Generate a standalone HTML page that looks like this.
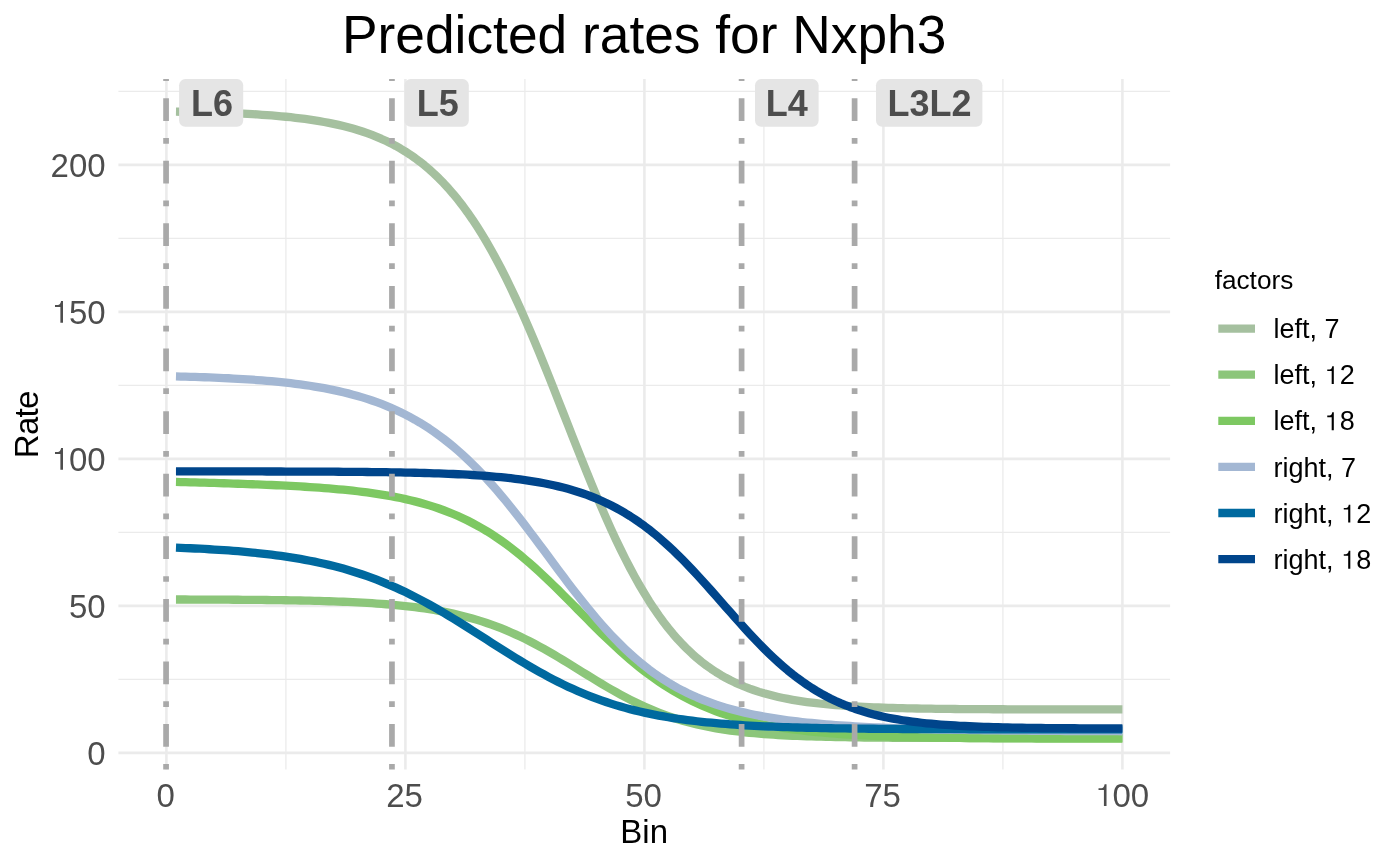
<!DOCTYPE html><html><head><meta charset="utf-8"><style>html,body{margin:0;padding:0;background:#fff;}svg{display:block;will-change:transform;}text{font-family:"Liberation Sans",sans-serif;}</style></head><body>
<svg width="1400" height="865" viewBox="0 0 1400 865">
<rect width="1400" height="865" fill="#fff"/>
<line x1="118.4" x2="1170.1" y1="679.37" y2="679.37" stroke="#ebebeb" stroke-width="1.3"/><line x1="118.4" x2="1170.1" y1="532.38" y2="532.38" stroke="#ebebeb" stroke-width="1.3"/><line x1="118.4" x2="1170.1" y1="385.40" y2="385.40" stroke="#ebebeb" stroke-width="1.3"/><line x1="118.4" x2="1170.1" y1="238.41" y2="238.41" stroke="#ebebeb" stroke-width="1.3"/><line x1="118.4" x2="1170.1" y1="91.43" y2="91.43" stroke="#ebebeb" stroke-width="1.3"/><line x1="285.90" x2="285.90" y1="79.1" y2="769.6" stroke="#ebebeb" stroke-width="1.3"/><line x1="524.90" x2="524.90" y1="79.1" y2="769.6" stroke="#ebebeb" stroke-width="1.3"/><line x1="763.90" x2="763.90" y1="79.1" y2="769.6" stroke="#ebebeb" stroke-width="1.3"/><line x1="1002.90" x2="1002.90" y1="79.1" y2="769.6" stroke="#ebebeb" stroke-width="1.3"/><line x1="118.4" x2="1170.1" y1="752.86" y2="752.86" stroke="#ebebeb" stroke-width="2.6"/><line x1="118.4" x2="1170.1" y1="605.88" y2="605.88" stroke="#ebebeb" stroke-width="2.6"/><line x1="118.4" x2="1170.1" y1="458.89" y2="458.89" stroke="#ebebeb" stroke-width="2.6"/><line x1="118.4" x2="1170.1" y1="311.90" y2="311.90" stroke="#ebebeb" stroke-width="2.6"/><line x1="118.4" x2="1170.1" y1="164.92" y2="164.92" stroke="#ebebeb" stroke-width="2.6"/><line x1="166.40" x2="166.40" y1="79.1" y2="769.6" stroke="#ebebeb" stroke-width="2.6"/><line x1="405.40" x2="405.40" y1="79.1" y2="769.6" stroke="#ebebeb" stroke-width="2.6"/><line x1="644.40" x2="644.40" y1="79.1" y2="769.6" stroke="#ebebeb" stroke-width="2.6"/><line x1="883.40" x2="883.40" y1="79.1" y2="769.6" stroke="#ebebeb" stroke-width="2.6"/><line x1="1122.40" x2="1122.40" y1="79.1" y2="769.6" stroke="#ebebeb" stroke-width="2.6"/>
<path d="M175.96 111.66 L180.74 111.74 L185.52 111.83 L190.30 111.92 L195.08 112.03 L199.86 112.14 L204.64 112.26 L209.42 112.40 L214.20 112.54 L218.98 112.69 L223.76 112.86 L228.54 113.04 L233.32 113.23 L238.10 113.44 L242.88 113.67 L247.66 113.92 L252.44 114.18 L257.22 114.47 L262.00 114.78 L266.78 115.12 L271.56 115.48 L276.34 115.87 L281.12 116.29 L285.90 116.75 L290.68 117.24 L295.46 117.77 L300.24 118.35 L305.02 118.97 L309.80 119.64 L314.58 120.36 L319.36 121.14 L324.14 121.98 L328.92 122.89 L333.70 123.87 L338.48 124.92 L343.26 126.05 L348.04 127.28 L352.82 128.60 L357.60 130.02 L362.38 131.54 L367.16 133.19 L371.94 134.96 L376.72 136.86 L381.50 138.90 L386.28 141.09 L391.06 143.45 L395.84 145.97 L400.62 148.68 L405.40 151.58 L410.18 154.69 L414.96 158.02 L419.74 161.57 L424.52 165.36 L429.30 169.41 L434.08 173.73 L438.86 178.32 L443.64 183.21 L448.42 188.40 L453.20 193.91 L457.98 199.74 L462.76 205.91 L467.54 212.43 L472.32 219.30 L477.10 226.54 L481.88 234.14 L486.66 242.11 L491.44 250.46 L496.22 259.17 L501.00 268.25 L505.78 277.69 L510.56 287.49 L515.34 297.62 L520.12 308.07 L524.90 318.83 L529.68 329.87 L534.46 341.17 L539.24 352.69 L544.02 364.42 L548.80 376.31 L553.58 388.33 L558.36 400.44 L563.14 412.61 L567.92 424.80 L572.70 436.96 L577.48 449.05 L582.26 461.04 L587.04 472.89 L591.82 484.56 L596.60 496.02 L601.38 507.24 L606.16 518.18 L610.94 528.83 L615.72 539.15 L620.50 549.13 L625.28 558.75 L630.06 568.00 L634.84 576.87 L639.62 585.36 L644.40 593.45 L649.18 601.15 L653.96 608.46 L658.74 615.39 L663.52 621.94 L668.30 628.12 L673.08 633.93 L677.86 639.40 L682.64 644.53 L687.42 649.34 L692.20 653.83 L696.98 658.03 L701.76 661.95 L706.54 665.59 L711.32 668.98 L716.10 672.14 L720.88 675.06 L725.66 677.78 L730.44 680.29 L735.22 682.61 L740.00 684.77 L744.78 686.75 L749.56 688.59 L754.34 690.28 L759.12 691.85 L763.90 693.29 L768.68 694.61 L773.46 695.83 L778.24 696.96 L783.02 697.99 L787.80 698.94 L792.58 699.82 L797.36 700.62 L802.14 701.36 L806.92 702.03 L811.70 702.65 L816.48 703.22 L821.26 703.75 L826.04 704.23 L830.82 704.67 L835.60 705.07 L840.38 705.44 L845.16 705.78 L849.94 706.09 L854.72 706.38 L859.50 706.64 L864.28 706.88 L869.06 707.10 L873.84 707.30 L878.62 707.48 L883.40 707.65 L888.18 707.80 L892.96 707.95 L897.74 708.08 L902.52 708.19 L907.30 708.30 L912.08 708.40 L916.86 708.49 L921.64 708.57 L926.42 708.65 L931.20 708.72 L935.98 708.78 L940.76 708.84 L945.54 708.90 L950.32 708.94 L955.10 708.99 L959.88 709.03 L964.66 709.07 L969.44 709.10 L974.22 709.13 L979.00 709.16 L983.78 709.19 L988.56 709.21 L993.34 709.23 L998.12 709.25 L1002.90 709.27 L1007.68 709.29 L1012.46 709.30 L1017.24 709.32 L1022.02 709.33 L1026.80 709.34 L1031.58 709.35 L1036.36 709.36 L1041.14 709.37 L1045.92 709.38 L1050.70 709.39 L1055.48 709.40 L1060.26 709.40 L1065.04 709.41 L1069.82 709.41 L1074.60 709.42 L1079.38 709.42 L1084.16 709.43 L1088.94 709.43 L1093.72 709.43 L1098.50 709.44 L1103.28 709.44 L1108.06 709.44 L1112.84 709.44 L1117.62 709.45 L1122.40 709.45" fill="none" stroke="#a5c09f" stroke-width="8.3" stroke-linejoin="round" stroke-linecap="butt"/>
<path d="M175.96 599.50 L180.74 599.51 L185.52 599.52 L190.30 599.54 L195.08 599.55 L199.86 599.57 L204.64 599.59 L209.42 599.60 L214.20 599.63 L218.98 599.65 L223.76 599.67 L228.54 599.70 L233.32 599.73 L238.10 599.76 L242.88 599.79 L247.66 599.83 L252.44 599.87 L257.22 599.91 L262.00 599.96 L266.78 600.01 L271.56 600.07 L276.34 600.13 L281.12 600.19 L285.90 600.26 L290.68 600.34 L295.46 600.42 L300.24 600.51 L305.02 600.61 L309.80 600.72 L314.58 600.83 L319.36 600.95 L324.14 601.09 L328.92 601.23 L333.70 601.39 L338.48 601.56 L343.26 601.74 L348.04 601.94 L352.82 602.16 L357.60 602.39 L362.38 602.65 L367.16 602.92 L371.94 603.21 L376.72 603.53 L381.50 603.88 L386.28 604.25 L391.06 604.65 L395.84 605.08 L400.62 605.55 L405.40 606.05 L410.18 606.59 L414.96 607.17 L419.74 607.80 L424.52 608.47 L429.30 609.20 L434.08 609.97 L438.86 610.81 L443.64 611.70 L448.42 612.66 L453.20 613.68 L457.98 614.77 L462.76 615.93 L467.54 617.17 L472.32 618.49 L477.10 619.89 L481.88 621.38 L486.66 622.96 L491.44 624.62 L496.22 626.38 L501.00 628.22 L505.78 630.17 L510.56 632.20 L515.34 634.34 L520.12 636.56 L524.90 638.87 L529.68 641.28 L534.46 643.76 L539.24 646.33 L544.02 648.98 L548.80 651.69 L553.58 654.46 L558.36 657.29 L563.14 660.16 L567.92 663.08 L572.70 666.01 L577.48 668.97 L582.26 671.93 L587.04 674.88 L591.82 677.83 L596.60 680.74 L601.38 683.62 L606.16 686.46 L610.94 689.24 L615.72 691.95 L620.50 694.60 L625.28 697.17 L630.06 699.65 L634.84 702.05 L639.62 704.35 L644.40 706.56 L649.18 708.67 L653.96 710.68 L658.74 712.59 L663.52 714.40 L668.30 716.11 L673.08 717.72 L677.86 719.24 L682.64 720.66 L687.42 721.99 L692.20 723.24 L696.98 724.40 L701.76 725.49 L706.54 726.49 L711.32 727.43 L716.10 728.30 L720.88 729.10 L725.66 729.84 L730.44 730.53 L735.22 731.16 L740.00 731.74 L744.78 732.28 L749.56 732.77 L754.34 733.22 L759.12 733.64 L763.90 734.02 L768.68 734.37 L773.46 734.69 L778.24 734.99 L783.02 735.26 L787.80 735.50 L792.58 735.73 L797.36 735.93 L802.14 736.12 L806.92 736.29 L811.70 736.45 L816.48 736.59 L821.26 736.72 L826.04 736.84 L830.82 736.95 L835.60 737.05 L840.38 737.14 L845.16 737.22 L849.94 737.30 L854.72 737.36 L859.50 737.43 L864.28 737.48 L869.06 737.53 L873.84 737.58 L878.62 737.62 L883.40 737.66 L888.18 737.70 L892.96 737.73 L897.74 737.76 L902.52 737.79 L907.30 737.81 L912.08 737.83 L916.86 737.85 L921.64 737.87 L926.42 737.89 L931.20 737.90 L935.98 737.91 L940.76 737.93 L945.54 737.94 L950.32 737.95 L955.10 737.96 L959.88 737.97 L964.66 737.97 L969.44 737.98 L974.22 737.99 L979.00 737.99 L983.78 738.00 L988.56 738.00 L993.34 738.01 L998.12 738.01 L1002.90 738.02 L1007.68 738.02 L1012.46 738.02 L1017.24 738.03 L1022.02 738.03 L1026.80 738.03 L1031.58 738.03 L1036.36 738.03 L1041.14 738.04 L1045.92 738.04 L1050.70 738.04 L1055.48 738.04 L1060.26 738.04 L1065.04 738.04 L1069.82 738.04 L1074.60 738.04 L1079.38 738.04 L1084.16 738.05 L1088.94 738.05 L1093.72 738.05 L1098.50 738.05 L1103.28 738.05 L1108.06 738.05 L1112.84 738.05 L1117.62 738.05 L1122.40 738.05" fill="none" stroke="#8cc67a" stroke-width="8.3" stroke-linejoin="round" stroke-linecap="butt"/>
<path d="M175.96 481.92 L180.74 482.04 L185.52 482.17 L190.30 482.30 L195.08 482.42 L199.86 482.56 L204.64 482.69 L209.42 482.83 L214.20 482.97 L218.98 483.11 L223.76 483.26 L228.54 483.41 L233.32 483.56 L238.10 483.73 L242.88 483.89 L247.66 484.06 L252.44 484.24 L257.22 484.42 L262.00 484.61 L266.78 484.81 L271.56 485.02 L276.34 485.23 L281.12 485.46 L285.90 485.70 L290.68 485.94 L295.46 486.20 L300.24 486.47 L305.02 486.76 L309.80 487.06 L314.58 487.38 L319.36 487.72 L324.14 488.07 L328.92 488.45 L333.70 488.85 L338.48 489.27 L343.26 489.72 L348.04 490.20 L352.82 490.71 L357.60 491.25 L362.38 491.83 L367.16 492.44 L371.94 493.10 L376.72 493.79 L381.50 494.54 L386.28 495.33 L391.06 496.18 L395.84 497.09 L400.62 498.05 L405.40 499.09 L410.18 500.19 L414.96 501.36 L419.74 502.62 L424.52 503.95 L429.30 505.38 L434.08 506.89 L438.86 508.51 L443.64 510.23 L448.42 512.05 L453.20 513.99 L457.98 516.05 L462.76 518.23 L467.54 520.53 L472.32 522.97 L477.10 525.54 L481.88 528.25 L486.66 531.10 L491.44 534.10 L496.22 537.24 L501.00 540.52 L505.78 543.95 L510.56 547.52 L515.34 551.24 L520.12 555.09 L524.90 559.08 L529.68 563.19 L534.46 567.43 L539.24 571.77 L544.02 576.22 L548.80 580.77 L553.58 585.39 L558.36 590.08 L563.14 594.83 L567.92 599.63 L572.70 604.45 L577.48 609.28 L582.26 614.12 L587.04 618.94 L591.82 623.73 L596.60 628.48 L601.38 633.17 L606.16 637.80 L610.94 642.34 L615.72 646.79 L620.50 651.15 L625.28 655.39 L630.06 659.52 L634.84 663.53 L639.62 667.41 L644.40 671.15 L649.18 674.76 L653.96 678.24 L658.74 681.57 L663.52 684.77 L668.30 687.83 L673.08 690.75 L677.86 693.53 L682.64 696.18 L687.42 698.70 L692.20 701.10 L696.98 703.37 L701.76 705.52 L706.54 707.55 L711.32 709.48 L716.10 711.29 L720.88 713.01 L725.66 714.62 L730.44 716.15 L735.22 717.58 L740.00 718.93 L744.78 720.20 L749.56 721.39 L754.34 722.51 L759.12 723.56 L763.90 724.54 L768.68 725.47 L773.46 726.33 L778.24 727.15 L783.02 727.91 L787.80 728.62 L792.58 729.29 L797.36 729.91 L802.14 730.49 L806.92 731.04 L811.70 731.55 L816.48 732.03 L821.26 732.47 L826.04 732.89 L830.82 733.28 L835.60 733.65 L840.38 733.99 L845.16 734.31 L849.94 734.60 L854.72 734.88 L859.50 735.14 L864.28 735.38 L869.06 735.61 L873.84 735.82 L878.62 736.02 L883.40 736.20 L888.18 736.37 L892.96 736.53 L897.74 736.68 L902.52 736.82 L907.30 736.95 L912.08 737.07 L916.86 737.19 L921.64 737.29 L926.42 737.39 L931.20 737.48 L935.98 737.57 L940.76 737.65 L945.54 737.72 L950.32 737.79 L955.10 737.86 L959.88 737.92 L964.66 737.98 L969.44 738.03 L974.22 738.08 L979.00 738.13 L983.78 738.17 L988.56 738.21 L993.34 738.25 L998.12 738.28 L1002.90 738.31 L1007.68 738.34 L1012.46 738.37 L1017.24 738.40 L1022.02 738.42 L1026.80 738.45 L1031.58 738.47 L1036.36 738.49 L1041.14 738.51 L1045.92 738.52 L1050.70 738.54 L1055.48 738.55 L1060.26 738.57 L1065.04 738.58 L1069.82 738.59 L1074.60 738.61 L1079.38 738.62 L1084.16 738.63 L1088.94 738.64 L1093.72 738.64 L1098.50 738.65 L1103.28 738.66 L1108.06 738.67 L1112.84 738.67 L1117.62 738.68 L1122.40 738.69" fill="none" stroke="#7dc862" stroke-width="8.3" stroke-linejoin="round" stroke-linecap="butt"/>
<path d="M175.96 376.42 L180.74 376.54 L185.52 376.66 L190.30 376.80 L195.08 376.94 L199.86 377.10 L204.64 377.26 L209.42 377.44 L214.20 377.63 L218.98 377.83 L223.76 378.04 L228.54 378.27 L233.32 378.52 L238.10 378.79 L242.88 379.07 L247.66 379.37 L252.44 379.69 L257.22 380.03 L262.00 380.40 L266.78 380.80 L271.56 381.21 L276.34 381.66 L281.12 382.14 L285.90 382.65 L290.68 383.20 L295.46 383.78 L300.24 384.40 L305.02 385.06 L309.80 385.77 L314.58 386.53 L319.36 387.33 L324.14 388.19 L328.92 389.10 L333.70 390.07 L338.48 391.11 L343.26 392.21 L348.04 393.39 L352.82 394.64 L357.60 395.96 L362.38 397.37 L367.16 398.87 L371.94 400.46 L376.72 402.15 L381.50 403.94 L386.28 405.84 L391.06 407.85 L395.84 409.98 L400.62 412.23 L405.40 414.61 L410.18 417.13 L414.96 419.78 L419.74 422.57 L424.52 425.52 L429.30 428.61 L434.08 431.87 L438.86 435.29 L443.64 438.87 L448.42 442.62 L453.20 446.54 L457.98 450.63 L462.76 454.90 L467.54 459.35 L472.32 463.97 L477.10 468.76 L481.88 473.72 L486.66 478.85 L491.44 484.15 L496.22 489.60 L501.00 495.20 L505.78 500.94 L510.56 506.82 L515.34 512.82 L520.12 518.92 L524.90 525.12 L529.68 531.41 L534.46 537.75 L539.24 544.15 L544.02 550.59 L548.80 557.04 L553.58 563.48 L558.36 569.91 L563.14 576.30 L567.92 582.64 L572.70 588.91 L577.48 595.08 L582.26 601.16 L587.04 607.11 L591.82 612.94 L596.60 618.62 L601.38 624.14 L606.16 629.51 L610.94 634.69 L615.72 639.71 L620.50 644.53 L625.28 649.17 L630.06 653.62 L634.84 657.88 L639.62 661.96 L644.40 665.84 L649.18 669.54 L653.96 673.05 L658.74 676.39 L663.52 679.55 L668.30 682.54 L673.08 685.37 L677.86 688.05 L682.64 690.58 L687.42 692.96 L692.20 695.20 L696.98 697.32 L701.76 699.31 L706.54 701.18 L711.32 702.94 L716.10 704.59 L720.88 706.15 L725.66 707.61 L730.44 708.99 L735.22 710.28 L740.00 711.49 L744.78 712.63 L749.56 713.70 L754.34 714.71 L759.12 715.66 L763.90 716.55 L768.68 717.38 L773.46 718.17 L778.24 718.91 L783.02 719.60 L787.80 720.26 L792.58 720.87 L797.36 721.45 L802.14 722.00 L806.92 722.52 L811.70 723.00 L816.48 723.46 L821.26 723.89 L826.04 724.30 L830.82 724.68 L835.60 725.04 L840.38 725.38 L845.16 725.71 L849.94 726.01 L854.72 726.30 L859.50 726.57 L864.28 726.83 L869.06 727.07 L873.84 727.30 L878.62 727.52 L883.40 727.73 L888.18 727.92 L892.96 728.10 L897.74 728.28 L902.52 728.44 L907.30 728.60 L912.08 728.75 L916.86 728.89 L921.64 729.02 L926.42 729.15 L931.20 729.27 L935.98 729.38 L940.76 729.49 L945.54 729.59 L950.32 729.69 L955.10 729.78 L959.88 729.87 L964.66 729.95 L969.44 730.03 L974.22 730.10 L979.00 730.17 L983.78 730.24 L988.56 730.30 L993.34 730.36 L998.12 730.42 L1002.90 730.48 L1007.68 730.53 L1012.46 730.58 L1017.24 730.62 L1022.02 730.67 L1026.80 730.71 L1031.58 730.75 L1036.36 730.79 L1041.14 730.82 L1045.92 730.86 L1050.70 730.89 L1055.48 730.92 L1060.26 730.95 L1065.04 730.98 L1069.82 731.01 L1074.60 731.03 L1079.38 731.06 L1084.16 731.08 L1088.94 731.10 L1093.72 731.12 L1098.50 731.14 L1103.28 731.16 L1108.06 731.18 L1112.84 731.19 L1117.62 731.21 L1122.40 731.23" fill="none" stroke="#a3b7d3" stroke-width="8.3" stroke-linejoin="round" stroke-linecap="butt"/>
<path d="M175.96 547.68 L180.74 547.86 L185.52 548.06 L190.30 548.27 L195.08 548.49 L199.86 548.72 L204.64 548.97 L209.42 549.24 L214.20 549.52 L218.98 549.82 L223.76 550.14 L228.54 550.48 L233.32 550.84 L238.10 551.23 L242.88 551.63 L247.66 552.07 L252.44 552.53 L257.22 553.01 L262.00 553.53 L266.78 554.08 L271.56 554.66 L276.34 555.27 L281.12 555.93 L285.90 556.62 L290.68 557.35 L295.46 558.12 L300.24 558.94 L305.02 559.80 L309.80 560.71 L314.58 561.67 L319.36 562.69 L324.14 563.76 L328.92 564.88 L333.70 566.07 L338.48 567.31 L343.26 568.62 L348.04 570.00 L352.82 571.44 L357.60 572.95 L362.38 574.53 L367.16 576.18 L371.94 577.91 L376.72 579.71 L381.50 581.59 L386.28 583.54 L391.06 585.57 L395.84 587.67 L400.62 589.86 L405.40 592.12 L410.18 594.45 L414.96 596.86 L419.74 599.34 L424.52 601.88 L429.30 604.50 L434.08 607.18 L438.86 609.92 L443.64 612.72 L448.42 615.57 L453.20 618.46 L457.98 621.40 L462.76 624.38 L467.54 627.38 L472.32 630.41 L477.10 633.46 L481.88 636.52 L486.66 639.59 L491.44 642.66 L496.22 645.72 L501.00 648.76 L505.78 651.78 L510.56 654.78 L515.34 657.74 L520.12 660.66 L524.90 663.53 L529.68 666.36 L534.46 669.13 L539.24 671.84 L544.02 674.49 L548.80 677.06 L553.58 679.57 L558.36 682.01 L563.14 684.36 L567.92 686.65 L572.70 688.85 L577.48 690.97 L582.26 693.01 L587.04 694.98 L591.82 696.86 L596.60 698.66 L601.38 700.39 L606.16 702.04 L610.94 703.61 L615.72 705.10 L620.50 706.53 L625.28 707.88 L630.06 709.17 L634.84 710.39 L639.62 711.54 L644.40 712.63 L649.18 713.67 L653.96 714.64 L658.74 715.57 L663.52 716.43 L668.30 717.25 L673.08 718.03 L677.86 718.75 L682.64 719.43 L687.42 720.08 L692.20 720.68 L696.98 721.25 L701.76 721.78 L706.54 722.28 L711.32 722.74 L716.10 723.18 L720.88 723.59 L725.66 723.98 L730.44 724.34 L735.22 724.67 L740.00 724.99 L744.78 725.28 L749.56 725.56 L754.34 725.81 L759.12 726.05 L763.90 726.28 L768.68 726.49 L773.46 726.68 L778.24 726.87 L783.02 727.04 L787.80 727.20 L792.58 727.35 L797.36 727.48 L802.14 727.61 L806.92 727.73 L811.70 727.85 L816.48 727.95 L821.26 728.05 L826.04 728.14 L830.82 728.23 L835.60 728.31 L840.38 728.38 L845.16 728.45 L849.94 728.51 L854.72 728.57 L859.50 728.63 L864.28 728.68 L869.06 728.73 L873.84 728.77 L878.62 728.81 L883.40 728.85 L888.18 728.89 L892.96 728.92 L897.74 728.96 L902.52 728.98 L907.30 729.01 L912.08 729.04 L916.86 729.06 L921.64 729.08 L926.42 729.10 L931.20 729.12 L935.98 729.14 L940.76 729.16 L945.54 729.17 L950.32 729.19 L955.10 729.20 L959.88 729.21 L964.66 729.22 L969.44 729.24 L974.22 729.25 L979.00 729.25 L983.78 729.26 L988.56 729.27 L993.34 729.28 L998.12 729.29 L1002.90 729.29 L1007.68 729.30 L1012.46 729.30 L1017.24 729.31 L1022.02 729.31 L1026.80 729.32 L1031.58 729.32 L1036.36 729.33 L1041.14 729.33 L1045.92 729.33 L1050.70 729.34 L1055.48 729.34 L1060.26 729.34 L1065.04 729.35 L1069.82 729.35 L1074.60 729.35 L1079.38 729.35 L1084.16 729.35 L1088.94 729.36 L1093.72 729.36 L1098.50 729.36 L1103.28 729.36 L1108.06 729.36 L1112.84 729.36 L1117.62 729.36 L1122.40 729.37" fill="none" stroke="#00699f" stroke-width="8.3" stroke-linejoin="round" stroke-linecap="butt"/>
<path d="M175.96 471.39 L180.74 471.40 L185.52 471.40 L190.30 471.40 L195.08 471.40 L199.86 471.41 L204.64 471.41 L209.42 471.41 L214.20 471.42 L218.98 471.42 L223.76 471.42 L228.54 471.43 L233.32 471.43 L238.10 471.44 L242.88 471.44 L247.66 471.45 L252.44 471.46 L257.22 471.47 L262.00 471.47 L266.78 471.48 L271.56 471.49 L276.34 471.50 L281.12 471.51 L285.90 471.53 L290.68 471.54 L295.46 471.55 L300.24 471.57 L305.02 471.59 L309.80 471.60 L314.58 471.62 L319.36 471.64 L324.14 471.67 L328.92 471.69 L333.70 471.72 L338.48 471.75 L343.26 471.78 L348.04 471.82 L352.82 471.85 L357.60 471.90 L362.38 471.94 L367.16 471.99 L371.94 472.04 L376.72 472.10 L381.50 472.16 L386.28 472.22 L391.06 472.30 L395.84 472.37 L400.62 472.46 L405.40 472.55 L410.18 472.65 L414.96 472.76 L419.74 472.87 L424.52 473.00 L429.30 473.14 L434.08 473.28 L438.86 473.44 L443.64 473.62 L448.42 473.81 L453.20 474.01 L457.98 474.23 L462.76 474.47 L467.54 474.73 L472.32 475.01 L477.10 475.31 L481.88 475.64 L486.66 475.99 L491.44 476.37 L496.22 476.79 L501.00 477.24 L505.78 477.72 L510.56 478.24 L515.34 478.81 L520.12 479.42 L524.90 480.08 L529.68 480.79 L534.46 481.55 L539.24 482.38 L544.02 483.26 L548.80 484.22 L553.58 485.25 L558.36 486.36 L563.14 487.55 L567.92 488.83 L572.70 490.20 L577.48 491.68 L582.26 493.26 L587.04 494.94 L591.82 496.75 L596.60 498.68 L601.38 500.74 L606.16 502.93 L610.94 505.27 L615.72 507.75 L620.50 510.39 L625.28 513.18 L630.06 516.13 L634.84 519.25 L639.62 522.54 L644.40 525.99 L649.18 529.62 L653.96 533.42 L658.74 537.40 L663.52 541.54 L668.30 545.84 L673.08 550.31 L677.86 554.92 L682.64 559.68 L687.42 564.58 L692.20 569.60 L696.98 574.72 L701.76 579.95 L706.54 585.25 L711.32 590.62 L716.10 596.03 L720.88 601.46 L725.66 606.91 L730.44 612.34 L735.22 617.74 L740.00 623.09 L744.78 628.37 L749.56 633.57 L754.34 638.67 L759.12 643.65 L763.90 648.49 L768.68 653.20 L773.46 657.75 L778.24 662.14 L783.02 666.35 L787.80 670.40 L792.58 674.26 L797.36 677.94 L802.14 681.44 L806.92 684.76 L811.70 687.89 L816.48 690.85 L821.26 693.64 L826.04 696.25 L830.82 698.70 L835.60 701.00 L840.38 703.14 L845.16 705.13 L849.94 706.99 L854.72 708.72 L859.50 710.32 L864.28 711.80 L869.06 713.18 L873.84 714.45 L878.62 715.62 L883.40 716.70 L888.18 717.70 L892.96 718.61 L897.74 719.46 L902.52 720.23 L907.30 720.95 L912.08 721.60 L916.86 722.20 L921.64 722.75 L926.42 723.26 L931.20 723.72 L935.98 724.14 L940.76 724.53 L945.54 724.88 L950.32 725.20 L955.10 725.50 L959.88 725.77 L964.66 726.01 L969.44 726.24 L974.22 726.44 L979.00 726.63 L983.78 726.80 L988.56 726.96 L993.34 727.10 L998.12 727.23 L1002.90 727.35 L1007.68 727.46 L1012.46 727.56 L1017.24 727.65 L1022.02 727.73 L1026.80 727.80 L1031.58 727.87 L1036.36 727.93 L1041.14 727.99 L1045.92 728.04 L1050.70 728.09 L1055.48 728.13 L1060.26 728.17 L1065.04 728.20 L1069.82 728.24 L1074.60 728.26 L1079.38 728.29 L1084.16 728.32 L1088.94 728.34 L1093.72 728.36 L1098.50 728.38 L1103.28 728.39 L1108.06 728.41 L1112.84 728.42 L1117.62 728.43 L1122.40 728.45" fill="none" stroke="#00458b" stroke-width="8.3" stroke-linejoin="round" stroke-linecap="butt"/>
<line x1="166.07" x2="166.07" y1="769.6" y2="79.1" stroke="#a9a9a9" stroke-width="5.7" stroke-dasharray="5.69 17.07 22.76 17.07"/>
<line x1="391.95" x2="391.95" y1="769.6" y2="79.1" stroke="#a9a9a9" stroke-width="5.7" stroke-dasharray="5.69 17.07 22.76 17.07"/>
<line x1="741.6" x2="741.6" y1="769.6" y2="79.1" stroke="#a9a9a9" stroke-width="5.7" stroke-dasharray="5.69 17.07 22.76 17.07"/>
<line x1="854.6" x2="854.6" y1="769.6" y2="79.1" stroke="#a9a9a9" stroke-width="5.7" stroke-dasharray="5.69 17.07 22.76 17.07"/>
<rect x="179.1" y="79.1" width="64.1" height="47.6" rx="6.2" ry="6.2" fill="#e5e5e5"/>
<text x="191.1" y="116.0" font-size="36" font-weight="bold" fill="#4d4d4d">L6</text>
<rect x="404.5" y="79.1" width="64.3" height="47.6" rx="6.2" ry="6.2" fill="#e5e5e5"/>
<text x="416.8" y="116.0" font-size="36" font-weight="bold" fill="#4d4d4d">L5</text>
<rect x="755.0" y="79.1" width="63.6" height="47.6" rx="6.2" ry="6.2" fill="#e5e5e5"/>
<text x="765.8" y="116.0" font-size="36" font-weight="bold" fill="#4d4d4d">L4</text>
<rect x="876.0" y="79.1" width="106.4" height="47.6" rx="6.2" ry="6.2" fill="#e5e5e5"/>
<text x="887.6" y="116.0" font-size="36" font-weight="bold" fill="#4d4d4d">L3L2</text>
<text x="644.2" y="53.1" font-size="53.3" text-anchor="middle" fill="#000">Predicted rates for Nxph3</text>
<text x="105.60" y="765.26" font-size="33" text-anchor="end" fill="#4d4d4d">0</text>
<text x="105.60" y="618.27" font-size="33" text-anchor="end" fill="#4d4d4d">50</text>
<text x="105.60" y="471.29" font-size="33" text-anchor="end" fill="#4d4d4d"> 00</text><path d="M62.99 469.84 L62.99 448.04 L61.09 448.04 Q60.39 452.04 57.80 452.04 L54.99 452.04 L54.99 453.94 L60.39 453.94 L60.39 469.84 Z" fill="#4d4d4d"/>
<text x="105.60" y="324.30" font-size="33" text-anchor="end" fill="#4d4d4d"> 50</text><path d="M62.99 322.85 L62.99 301.06 L61.09 301.06 Q60.39 305.05 57.80 305.05 L54.99 305.05 L54.99 306.96 L60.39 306.96 L60.39 322.85 Z" fill="#4d4d4d"/>
<text x="105.60" y="177.32" font-size="33" text-anchor="end" fill="#4d4d4d">200</text>
<text x="165.60" y="807.40" font-size="33" text-anchor="middle" fill="#4d4d4d">0</text>
<text x="404.60" y="807.40" font-size="33" text-anchor="middle" fill="#4d4d4d">25</text>
<text x="643.60" y="807.40" font-size="33" text-anchor="middle" fill="#4d4d4d">50</text>
<text x="882.60" y="807.40" font-size="33" text-anchor="middle" fill="#4d4d4d">75</text>
<text x="1121.60" y="807.40" font-size="33" text-anchor="middle" fill="#4d4d4d"> 00</text><path d="M1106.52 805.95 L1106.52 784.15 L1104.62 784.15 Q1103.92 788.15 1101.33 788.15 L1098.52 788.15 L1098.52 790.05 L1103.92 790.05 L1103.92 805.95 Z" fill="#4d4d4d"/>
<text x="644.2" y="843" font-size="33" text-anchor="middle" fill="#000">Bin</text>
<text transform="translate(38.3 424.35) rotate(-90)" x="0" y="0" font-size="33" text-anchor="middle" textLength="67.6" lengthAdjust="spacing" fill="#000">Rate</text>
<text x="1214.7" y="289" font-size="26.2" fill="#000">factors</text>
<line x1="1218.3" x2="1255" y1="328.60" y2="328.60" stroke="#a5c09f" stroke-width="8.3"/>
<text x="1273.60" y="338.00" font-size="27" text-anchor="start" fill="#000">left, 7</text>
<line x1="1218.3" x2="1255" y1="374.70" y2="374.70" stroke="#8cc67a" stroke-width="8.3"/>
<text x="1273.60" y="384.18" font-size="27" text-anchor="start" fill="#000">left,  2</text><path d="M1333.81 383.98 L1333.81 366.14 L1332.25 366.14 Q1331.68 369.42 1329.56 369.42 L1327.26 369.42 L1327.26 370.97 L1331.68 370.97 L1331.68 383.98 Z" fill="#000"/>
<line x1="1218.3" x2="1255" y1="420.80" y2="420.80" stroke="#7dc862" stroke-width="8.3"/>
<text x="1273.60" y="430.36" font-size="27" text-anchor="start" fill="#000">left,  8</text><path d="M1333.81 430.16 L1333.81 412.32 L1332.25 412.32 Q1331.68 415.60 1329.56 415.60 L1327.26 415.60 L1327.26 417.15 L1331.68 417.15 L1331.68 430.16 Z" fill="#000"/>
<line x1="1218.3" x2="1255" y1="466.90" y2="466.90" stroke="#a3b7d3" stroke-width="8.3"/>
<text x="1273.60" y="476.54" font-size="27" text-anchor="start" fill="#000">right, 7</text>
<line x1="1218.3" x2="1255" y1="513.00" y2="513.00" stroke="#00699f" stroke-width="8.3"/>
<text x="1273.60" y="522.72" font-size="27" text-anchor="start" fill="#000">right,  2</text><path d="M1350.31 522.52 L1350.31 504.68 L1348.76 504.68 Q1348.19 507.96 1346.07 507.96 L1343.77 507.96 L1343.77 509.51 L1348.19 509.51 L1348.19 522.52 Z" fill="#000"/>
<line x1="1218.3" x2="1255" y1="559.10" y2="559.10" stroke="#00458b" stroke-width="8.3"/>
<text x="1273.60" y="568.90" font-size="27" text-anchor="start" fill="#000">right,  8</text><path d="M1350.31 568.70 L1350.31 550.86 L1348.76 550.86 Q1348.19 554.14 1346.07 554.14 L1343.77 554.14 L1343.77 555.69 L1348.19 555.69 L1348.19 568.70 Z" fill="#000"/>
</svg></body></html>
